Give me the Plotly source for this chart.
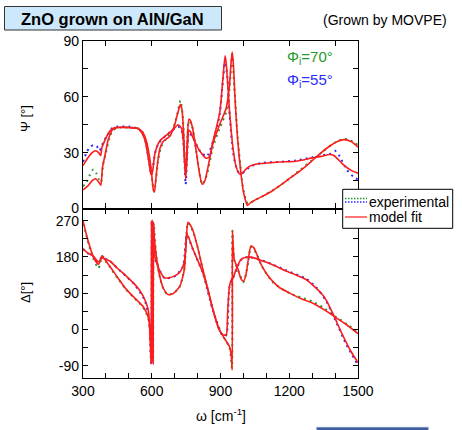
import plotly.graph_objects as go

# ---------------- data ----------------
# Psi, model fit, angle of incidence 70 deg
psi70_x = [300, 320, 340, 355, 370, 378, 385, 395, 410, 430, 460, 500, 540, 560, 575, 590, 600, 607, 612, 618, 625, 635, 650, 680, 700, 715, 725, 732, 740, 746, 750, 755, 762, 770, 780, 795, 808, 820, 832, 845, 867, 896, 925, 939, 946, 951, 956, 963, 975, 990, 1000, 1010, 1017, 1030, 1050, 1083, 1120, 1156, 1200, 1229, 1265, 1301, 1340, 1374, 1410, 1439, 1470, 1500]
psi70_y = [10, 12, 15, 16, 14, 12.5, 22, 28, 37, 42.5, 43.5, 43.5, 43, 41, 37, 28, 18, 10, 9, 16, 24, 32, 36, 39, 45, 52, 56, 53, 38, 20, 22, 36, 48, 47, 42, 30, 19, 13, 15, 22, 35, 45, 54, 66, 78, 84, 78, 60, 37, 18, 9, 4, 1.6, 3, 4.5, 6.5, 9, 12, 16, 18.6, 22, 25.8, 30, 33.3, 36, 37, 36, 33]
# Psi, model fit, 55 deg
psi55_x = [300, 320, 340, 355, 368, 377, 383, 390, 400, 420, 440, 500, 540, 555, 570, 585, 595, 600, 606, 613, 625, 640, 660, 690, 715, 730, 738, 744, 748, 752, 756, 762, 770, 780, 809, 838, 852, 867, 896, 910, 920, 925, 931, 939, 948, 954, 965, 980, 991, 1010, 1026, 1066, 1083, 1150, 1229, 1301, 1340, 1374, 1395, 1432, 1470, 1500]
psi55_y = [23, 27, 30, 31, 30, 28.5, 33, 35, 38, 42, 43.5, 43.5, 43, 41, 37, 27, 19, 18, 22, 29, 34, 37, 39, 42, 45, 43, 36, 24, 16, 24, 34, 42, 41, 38, 31, 27, 28, 36, 51, 69, 82, 78, 68, 53, 40, 33, 24, 19, 18.5, 21, 22.6, 24, 24.2, 25, 25.4, 27.2, 28, 29, 28.5, 24, 20.5, 19]
# Psi, experimental 70 deg
exp_psi70_x = [300, 315, 330, 345, 358, 368, 378, 388, 400, 415, 430, 460, 500, 540, 560, 578, 592, 603, 610, 618, 627, 640, 660, 690, 710, 725, 735, 742, 748, 754, 762, 775, 795, 820, 840, 867, 896, 925, 939, 951, 960, 975, 1000, 1020, 1050, 1090, 1150, 1200, 1250, 1300, 1350, 1400, 1440, 1470, 1500]
exp_psi70_y = [12, 14, 18, 21, 19, 16, 14, 24, 30, 38, 42, 43.5, 43.5, 43, 41, 35, 25, 14, 9, 15, 25, 33, 37, 42, 50, 58, 50, 33, 18, 32, 47, 45, 30, 13, 18, 33, 43, 52, 64, 83, 66, 38, 10, 2.5, 4.5, 7, 11.5, 16, 21, 26, 31, 35.5, 37.5, 36.5, 34]
# Psi, experimental 55 deg
exp_psi55_x = [300, 315, 330, 345, 360, 372, 380, 390, 405, 425, 450, 500, 540, 560, 575, 590, 598, 606, 615, 630, 660, 690, 715, 730, 740, 748, 755, 762, 780, 810, 840, 867, 896, 910, 920, 930, 940, 955, 975, 995, 1030, 1080, 1150, 1230, 1300, 1340, 1380, 1400, 1420, 1450, 1480, 1500]
exp_psi55_y = [25, 30, 33, 34, 33.5, 31, 33, 36, 39, 43, 44, 44, 43, 40.5, 35, 24, 19, 23, 30, 35, 39, 42, 44, 42, 33, 13, 30, 41, 38, 31, 28, 36, 50, 68, 80, 70, 50, 30, 20, 19, 22.5, 24.5, 25, 25.8, 27.5, 28.5, 29.5, 31, 28, 21, 17, 15.5]

# Delta, model fit 70 deg
del70_x = [300, 315, 330, 345, 360, 368, 376, 382, 390, 400, 417, 450, 490, 526, 562, 584, 592, 597, 599, 601, 604, 606, 608, 611, 620, 635, 650, 671, 690, 705, 722, 735, 743, 750, 758, 765, 780, 800, 823, 845, 867, 896, 915, 939, 947, 951, 952, 955, 960, 976, 990, 1000, 1010, 1019, 1033, 1045, 1055, 1070, 1084, 1105, 1127, 1160, 1200, 1250, 1301, 1350, 1396, 1450, 1500]
del70_y = [270, 235, 205, 180, 165, 162, 172, 183, 178, 170, 157, 130, 99, 78, 57, 32, 10, -60, -80, 270, 100, -85, 265, 230, 182, 132, 103, 87, 88, 95, 107, 130, 153, 220, 266, 262, 245, 205, 149, 100, 49, -1, -20, -42, -65, -100, 245, 210, 174, 150, 125, 120, 133, 165, 207, 203, 191, 170, 154, 135, 120, 103, 91, 77, 66, 50, 32.5, 12, -10]
# Delta, model fit 55 deg
del55_x = [300, 320, 345, 366, 375, 381, 390, 417, 450, 490, 526, 550, 570, 584, 589, 594, 597, 599, 602, 604, 608, 613, 627, 640, 657, 680, 700, 722, 736, 743, 748, 753, 760, 780, 800, 823, 845, 867, 890, 910, 925, 931, 939, 950, 955, 968, 990, 1019, 1050, 1084, 1130, 1186, 1230, 1273, 1316, 1340, 1360, 1396, 1420, 1447, 1470, 1500]
del55_y = [200, 190, 182, 168, 172, 178, 176, 170, 152, 132, 112, 95, 74, 50, 24, -40, -85, 270, -70, 260, 215, 182, 157, 140, 128, 129, 133, 142, 157, 170, 200, 237, 230, 199, 172, 141, 98, 49, 5, -13, -13, 40, 107, 126, 128, 149, 174, 180, 177, 170, 160, 145, 135, 124, 103.5, 90, 74, 32.5, 2, -30, -55, -82]
# Delta, experimental 70 deg
exp_del70_x = [300, 315, 330, 345, 360, 368, 378, 385, 400, 417, 450, 490, 526, 562, 584, 595, 600, 603, 606, 609, 620, 635, 650, 671, 705, 722, 743, 758, 780, 800, 823, 845, 867, 896, 939, 950, 952, 960, 976, 1000, 1019, 1033, 1055, 1084, 1127, 1200, 1250, 1300, 1350, 1396, 1450, 1500]
exp_del70_y = [262, 232, 200, 176, 158, 152, 170, 182, 168, 155, 128, 98, 77, 55, 30, -20, -75, 268, -80, 262, 180, 130, 102, 86, 95, 106, 152, 264, 244, 204, 148, 98, 48, -2, -44, -95, 245, 172, 148, 118, 160, 205, 190, 153, 118, 90, 80, 70, 54, 34, 14, -7]
# Delta, experimental 55 deg
exp_del55_x = [300, 320, 345, 366, 381, 417, 450, 490, 526, 570, 589, 595, 598, 600, 603, 606, 613, 627, 657, 700, 736, 753, 780, 823, 867, 910, 925, 939, 955, 990, 1019, 1084, 1186, 1273, 1316, 1360, 1396, 1447, 1500]
exp_del55_y = [200, 189, 181, 167, 178, 170, 152, 131, 111, 72, 22, -60, -88, 268, -70, 250, 180, 156, 127, 132, 156, 235, 198, 140, 48, -15, -14, 105, 128, 173, 180, 171, 147, 126, 106, 72, 30, -35, -88]

# axis ticks
x_ticks = list(range(300, 1501, 100))
x_labels = [str(v) if v % 300 == 0 else "" for v in x_ticks]
x_ticks_top = list(range(400, 1401, 200))
psi_ticks = [0, 15, 30, 45, 60, 75, 90]
psi_labels = ["0", "", "30", "", "60", "", "90"]
del_ticks = [-90, -45, 0, 45, 90, 135, 180, 225, 270]
del_labels = ["-90", "", "0", "", "90", "", "180", "", "270"]

# ---------------- styling ----------------
W, H = 462, 430
ML, MR, MT, MB = 83, 104, 41, 52
PW, PH = W - ML - MR, H - MT - MB
FONT = "Arial, Liberation Sans, sans-serif"
GREEN = "#22992a"
BLUE = "#2b2bff"
RED = "#ff1c1c"


def px(x):
    return (x - ML) / PW


def py(y):
    return (H - MB - y) / PH


fig = go.Figure()


def add(x, y, color, xa, ya, dash=None, width=1.6):
    fig.add_trace(go.Scatter(
        x=x, y=y, mode="lines", xaxis=xa, yaxis=ya, showlegend=False,
        line=dict(color=color, width=width, dash=dash, shape="spline", smoothing=0.6),
        hoverinfo="skip"))


DOT = "2px,4px"
add(exp_psi70_x, exp_psi70_y, GREEN, "x", "y", DOT, 2)
add(exp_psi55_x, exp_psi55_y, BLUE, "x", "y", DOT, 2)
add(psi70_x, psi70_y, RED, "x", "y")
add(psi55_x, psi55_y, RED, "x", "y")
add(exp_del70_x, exp_del70_y, GREEN, "x2", "y2", DOT, 2)
add(exp_del55_x, exp_del55_y, BLUE, "x2", "y2", DOT, 2)
add(del70_x, del70_y, RED, "x2", "y2")
add(del55_x, del55_y, RED, "x2", "y2")

split = (H - MB - 208.5) / PH
axis_common = dict(showgrid=False, zeroline=False, showline=True, linecolor="black",
                   linewidth=1.2, mirror="ticks", ticks="inside", ticklen=5,
                   tickcolor="black", tickwidth=1,
                   tickfont=dict(family=FONT, size=14, color="black"))

fig.update_layout(
    width=W, height=H,
    margin=dict(l=ML, r=MR, t=MT, b=MB, pad=0),
    paper_bgcolor="white", plot_bgcolor="white",
    font=dict(family=FONT, color="black"),
    xaxis=dict(axis_common, domain=[0, 1], range=[300, 1500], anchor="y",
               tickvals=x_ticks_top, showticklabels=False),
    yaxis=dict(axis_common, domain=[split, 1], range=[0, 90], anchor="x",
               tickvals=psi_ticks, ticktext=psi_labels),
    xaxis2=dict(axis_common, domain=[0, 1], range=[300, 1500], anchor="y2",
                tickvals=x_ticks, ticktext=x_labels),
    yaxis2=dict(axis_common, domain=[0, split], range=[-120, 300], anchor="x2",
                tickvals=del_ticks, ticktext=del_labels),
)

shapes = []
annotations = []
# title box
shapes.append(dict(type="rect", xref="paper", yref="paper",
                   x0=px(4.5), x1=px(221.5), y0=py(30), y1=py(6.5),
                   fillcolor="#cde8fb", line=dict(color="#333333", width=1)))
annotations.append(dict(xref="paper", yref="paper", x=px(112.5), y=py(18.5),
                        text="<b>ZnO grown on AlN/GaN</b>", showarrow=False,
                        font=dict(family=FONT, size=16.5, color="black"),
                        xanchor="center", yanchor="middle"))
annotations.append(dict(xref="paper", yref="paper", x=px(385), y=py(20),
                        text="(Grown by MOVPE)", showarrow=False,
                        font=dict(family=FONT, size=14, color="black"),
                        xanchor="center", yanchor="middle"))
annotations.append(dict(xref="paper", yref="paper", x=px(284.5), y=py(58),
                        text="Φ<sub>i</sub>=70°", showarrow=False,
                        font=dict(family=FONT, size=15, color=GREEN),
                        xanchor="left", yanchor="middle"))
annotations.append(dict(xref="paper", yref="paper", x=px(284.5), y=py(80.5),
                        text="Φ<sub>i</sub>=55°", showarrow=False,
                        font=dict(family=FONT, size=15, color=BLUE),
                        xanchor="left", yanchor="middle"))
# axis titles
annotations.append(dict(xref="paper", yref="paper", x=px(25), y=py(119),
                        text="Ψ [°]", textangle=-90, showarrow=False,
                        font=dict(family=FONT, size=13, color="black"),
                        xanchor="center", yanchor="middle"))
annotations.append(dict(xref="paper", yref="paper", x=px(25), y=py(293),
                        text="Δ[°]", textangle=-90, showarrow=False,
                        font=dict(family=FONT, size=13, color="black"),
                        xanchor="center", yanchor="middle"))
annotations.append(dict(xref="paper", yref="paper", x=px(221), y=py(415),
                        text="ω [cm<sup>-1</sup>]", showarrow=False,
                        font=dict(family=FONT, size=14, color="black"),
                        xanchor="center", yanchor="middle"))
# legend box
shapes.append(dict(type="rect", xref="paper", yref="paper",
                   x0=px(342.7), x1=px(452.7), y0=py(228.3), y1=py(189.3),
                   fillcolor="white", line=dict(color="black", width=1)))
shapes.append(dict(type="line", xref="paper", yref="paper",
                   x0=px(345), x1=px(367), y0=py(198.5), y1=py(198.5),
                   line=dict(color=GREEN, width=1.5, dash="1.5px,1.5px")))
shapes.append(dict(type="line", xref="paper", yref="paper",
                   x0=px(345), x1=px(367), y0=py(202), y1=py(202),
                   line=dict(color=BLUE, width=1.5, dash="1.5px,1.5px")))
shapes.append(dict(type="line", xref="paper", yref="paper",
                   x0=px(345), x1=px(367), y0=py(217), y1=py(217),
                   line=dict(color=RED, width=1.2)))
annotations.append(dict(xref="paper", yref="paper", x=px(366.5), y=py(202.5),
                        text="experimental", showarrow=False,
                        font=dict(family=FONT, size=14, color="black"),
                        xanchor="left", yanchor="middle"))
annotations.append(dict(xref="paper", yref="paper", x=px(366.5), y=py(217),
                        text="model fit", showarrow=False,
                        font=dict(family=FONT, size=14, color="black"),
                        xanchor="left", yanchor="middle"))
# blue bar at the bottom edge
shapes.append(dict(type="rect", xref="paper", yref="paper",
                   x0=px(316.7), x1=px(428.3), y0=py(431), y1=py(427.3),
                   fillcolor="#3d5e9b", line=dict(color="#7f9bd0", width=0.6)))

fig.update_layout(shapes=shapes, annotations=annotations)
fig.write_html("out.html")
